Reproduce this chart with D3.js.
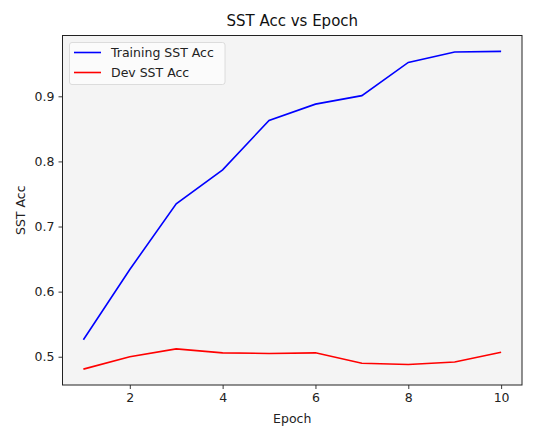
<!DOCTYPE html>
<html>
<head>
<meta charset="utf-8">
<script src="https://cdn.jsdelivr.net/npm/d3@7"></script>
<style>
  body { margin: 0; background: #fff; }
  svg { display: block; font-family: "DejaVu Sans", sans-serif; }
</style>
</head>
<body>
<script>
// values
var epochs = [1, 2, 3, 4, 5, 6, 7, 8, 9, 10];
var trainAcc = [0.526, 0.634, 0.735, 0.787, 0.863, 0.888, 0.901, 0.952, 0.968, 0.969];
var devAcc = [0.481, 0.500, 0.512, 0.506, 0.505, 0.506, 0.490, 0.488, 0.492, 0.507];
var xTicks = [2, 4, 6, 8, 10];
var yTicks = [0.5, 0.6, 0.7, 0.8, 0.9];

let width = 533;
let height = 429;
let plotLeft = 62.5, plotTop = 35.5, plotRight = 522, plotBottom = 385;
let fontSize = '12.5px';

var svg = d3.select('body').append('svg')
    .attr('width', width)
    .attr('height', height);

// matplotlib style 5% margins
var allY = trainAcc.concat(devAcc);
var yMin = d3.min(allY), yMax = d3.max(allY);
var yPad = (yMax - yMin) * 0.05;
var xPad = (10 - 1) * 0.05;

let xScale = d3.scaleLinear()
    .domain([1 - xPad, 10 + xPad])
    .range([plotLeft, plotRight]);
let yScale = d3.scaleLinear()
    .domain([yMin - yPad, yMax + yPad])
    .range([plotBottom, plotTop]);

svg.append('rect')
    .attr('x', plotLeft).attr('y', plotTop)
    .attr('width', plotRight - plotLeft).attr('height', plotBottom - plotTop)
    .attr('fill', '#f4f4f4');

var line = d3.line()
    .x((d, i) => xScale(epochs[i]))
    .y(d => yScale(d));

svg.append('path')
    .datum(trainAcc)
    .attr('d', line)
    .attr('fill', 'none')
    .attr('stroke', '#0000ff')
    .attr('stroke-width', 1.6);
svg.append('path')
    .datum(devAcc)
    .attr('d', line)
    .attr('fill', 'none')
    .attr('stroke', '#ff0000')
    .attr('stroke-width', 1.6);

// axes
var xAxis = d3.axisBottom(xScale).tickValues(xTicks).tickSize(4).tickPadding(4).tickFormat(d3.format('d'));
var yAxis = d3.axisLeft(yScale).tickValues(yTicks).tickSize(4).tickPadding(4).tickFormat(d3.format('.1f'));

var gx = svg.append('g')
    .attr('transform', 'translate(0,' + plotBottom + ')')
    .call(xAxis);
var gy = svg.append('g')
    .attr('transform', 'translate(' + plotLeft + ',0)')
    .call(yAxis);
[gx, gy].forEach(g => {
  g.select('.domain').remove();
  g.selectAll('text').attr('font-size', fontSize).attr('fill', '#222').attr('font-family', '"DejaVu Sans", sans-serif');
  g.selectAll('line').attr('stroke', '#222').attr('stroke-width', 0.9);
});

// frame
svg.append('rect')
    .attr('x', plotLeft).attr('y', plotTop)
    .attr('width', plotRight - plotLeft).attr('height', plotBottom - plotTop)
    .attr('fill', 'none')
    .attr('stroke', '#222')
    .attr('stroke-width', 1);

// labels
svg.append('text')
    .attr('x', (plotLeft + plotRight) / 2).attr('y', 26)
    .attr('text-anchor', 'middle')
    .attr('font-size', '15px')
    .attr('fill', '#111')
    .text('SST Acc vs Epoch');
svg.append('text')
    .attr('x', (plotLeft + plotRight) / 2).attr('y', 423)
    .attr('text-anchor', 'middle')
    .attr('font-size', fontSize)
    .attr('fill', '#222')
    .text('Epoch');
svg.append('text')
    .attr('transform', 'translate(25,' + (plotTop + plotBottom) / 2 + ') rotate(-90)')
    .attr('text-anchor', 'middle')
    .attr('font-size', fontSize)
    .attr('fill', '#222')
    .text('SST Acc');

// legend
var legendItems = [['Training SST Acc', '#0000ff'], ['Dev SST Acc', '#ff0000']];
var legend = svg.append('g');
legend.append('rect')
    .attr('x', 69.5).attr('y', 42.5)
    .attr('width', 155.5).attr('height', 42)
    .attr('rx', 2.5)
    .attr('fill', '#fbfbfb')
    .attr('stroke', '#d8d8d8')
    .attr('stroke-width', 0.9);
legendItems.forEach((item, i) => {
  var y = 52.5 + i * 20;
  legend.append('line')
      .attr('x1', 74).attr('x2', 101)
      .attr('y1', y).attr('y2', y)
      .attr('stroke', item[1]).attr('stroke-width', 1.6);
  legend.append('text')
      .attr('x', 111).attr('y', y + 4.5)
      .attr('font-size', fontSize)
      .attr('fill', '#222')
      .text(item[0]);
});
</script>
</body>
</html>
